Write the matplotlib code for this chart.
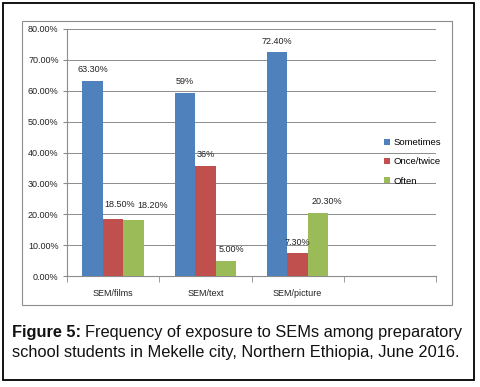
import matplotlib.pyplot as plt
from matplotlib.patches import Rectangle

plt.rcParams['font.family'] = ['Liberation Sans', 'DejaVu Sans']

categories = ['SEM/films', 'SEM/text', 'SEM/picture', '']
sometimes = [63.3, 59.2, 72.4]
once_twice = [18.5, 35.6, 7.3]
often = [18.2, 4.8, 20.3]
sometimes_lbl = ['63.30%', '59%', '72.40%']
once_lbl = ['18.50%', '36%', '7.30%']
often_lbl = ['18.20%', '5.00%', '20.30%']
yticks = [0, 10, 20, 30, 40, 50, 60, 70, 80]

W, H = 481, 387
fig = plt.figure(figsize=(W / 100, H / 100), dpi=100)

# outer frame and chart area frame
fig.patches.append(Rectangle((3 / W, 1 - 380 / H), 471 / W, 377 / H, transform=fig.transFigure,
                             fill=False, edgecolor='black', linewidth=1.3))
fig.patches.append(Rectangle((22 / W, 1 - 305 / H), 430 / W, 284 / H, transform=fig.transFigure,
                             fill=False, edgecolor='#8c8c8c', linewidth=0.8))

ax = fig.add_axes([67 / W, 1 - 276 / H, 369 / W, 247 / H])

bw = 1 / 4.5
x = list(range(3))
# label nudges (points) as in the original excel chart
dx_once = [4.5, 0, 0]
dx_often = [13.5, 4, 6.5]
dy_once = [7, 5, 5]
dy_often = [7, 5, 5]
series = [(sometimes, sometimes_lbl, '#4F81BD', 'Sometimes', -bw, [0, 0, 0], [5, 5, 5]),
          (once_twice, once_lbl, '#C0504D', 'Once/twice', 0, dx_once, dy_once),
          (often, often_lbl, '#9BBB59', 'Often', bw, dx_often, dy_often)]
for vals, lbls, col, name, off, dxs, dys in series:
    xs = [i + off for i in x]
    ax.bar(xs, vals, width=bw, color=col, label=name, zorder=3)
    for xi, v, t, d, e in zip(xs, vals, lbls, dxs, dys):
        ax.annotate(t, (xi, v), xytext=(d, e), textcoords='offset points',
                    ha='center', va='bottom', fontsize=6.5, color='#222222', zorder=4)

ax.set_xlim(-0.5, 3.5)
ax.set_ylim(0, 80)
ax.set_yticks(yticks)
ax.set_yticklabels(['%.2f%%' % v for v in yticks], fontsize=6.5, color='#222222')
ax.set_xticks([0, 1, 2, 3])
ax.set_xticklabels(categories, fontsize=6.5, color='#222222')
ax.set_xticks([-0.5, 0.5, 1.5, 2.5, 3.5], minor=True)
ax.tick_params(axis='x', which='major', length=0, pad=9)
ax.tick_params(axis='x', which='minor', length=4, color='#8c8c8c')
ax.tick_params(axis='y', length=3, color='#8c8c8c', pad=3)
ax.grid(axis='y', color='#8c8c8c', linewidth=0.7, zorder=0)
for s in ['top', 'right']:
    ax.spines[s].set_visible(False)
for s in ['left', 'bottom']:
    ax.spines[s].set_color('#8c8c8c')
    ax.spines[s].set_linewidth(0.8)

leg = fig.legend(loc='upper left', bbox_to_anchor=(384 / W, 1 - 138 / H), fontsize=6.8,
                 frameon=False, handlelength=0.6, handleheight=0.6, handletextpad=0.4,
                 labelspacing=1.1, borderpad=0, borderaxespad=0)

# caption with bold lead-in
fs = 11.8
t1 = fig.text(12 / W, 1 - 333 / H, 'Figure 5:', fontsize=fs, fontweight='bold', va='center',
              color='#111111')
fig.canvas.draw()
bb = t1.get_window_extent()
fig.text(bb.x1 / W + 4 / W, 1 - 333 / H, 'Frequency of exposure to SEMs among preparatory',
         fontsize=fs, va='center', color='#111111')
fig.text(12 / W, 1 - 353 / H, 'school students in Mekelle city, Northern Ethiopia, June 2016.',
         fontsize=fs, va='center', color='#111111')

plt.savefig('out.png', dpi=100)
plt.close()
